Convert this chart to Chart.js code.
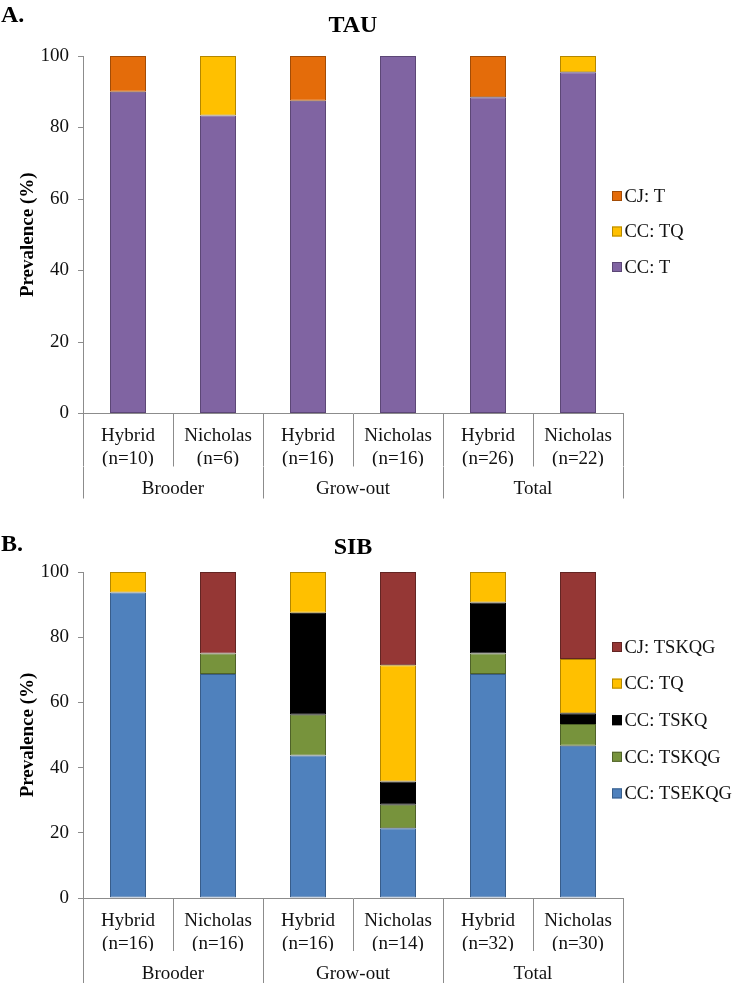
<!DOCTYPE html>
<html>
<head>
<meta charset="utf-8">
<script src="https://cdn.jsdelivr.net/npm/chart.js@4.4.0/dist/chart.umd.min.js"></script>
<style>
  body { margin: 0; background: #fff; }
  canvas { display: block; }
</style>
</head>
<body>
<canvas id="chartA" width="733" height="505"></canvas>
<canvas id="chartB" width="733" height="480"></canvas>
<script>
// Group labels under the categories
var groups = ["Brooder", "Grow-out", "Total"];
var tauLabels = [["Hybrid", "(n=10)"], ["Nicholas", "(n=6)"], ["Hybrid", "(n=16)"], ["Nicholas", "(n=16)"], ["Hybrid", "(n=26)"], ["Nicholas", "(n=22)"]];
var sibLabels = [["Hybrid", "(n=16)"], ["Nicholas", "(n=16)"], ["Hybrid", "(n=16)"], ["Nicholas", "(n=14)"], ["Hybrid", "(n=32)"], ["Nicholas", "(n=30)"]];

// TAU prevalence (%)
var tau_cc_t = [90, 83.33, 87.5, 100, 88.46, 95.45];
var tau_cc_tq = [0, 16.67, 0, 0, 0, 4.55];
var tau_cj_t = [10, 0, 12.5, 0, 11.54, 0];

// SIB prevalence (%)
var sib_cc_tsekqg = [93.75, 68.75, 43.75, 21.43, 68.75, 46.67];
var sib_cc_tskqg = [0, 6.25, 12.5, 7.14, 6.25, 6.67];
var sib_cc_tskq = [0, 0, 31.25, 7.14, 15.62, 3.33];
var sib_cc_tq = [6.25, 0, 12.5, 35.71, 9.38, 16.67];
var sib_cj_tskqg = [0, 25, 0, 28.57, 0, 26.66];

var serif = "'Liberation Serif', 'Times New Roman', serif";
var lineColor = "#8c8c8c";
var textColor = "#111";

// letter, title and legend drawn next to the plot
var panelText = {
  id: "panelText",
  afterDraw: function (chart, args, o) {
    var ctx = chart.ctx, a = chart.chartArea;
    ctx.save();
    ctx.fillStyle = "#000";
    ctx.textBaseline = "middle";
    ctx.font = "bold 24px " + serif;
    ctx.textAlign = "left";
    ctx.fillText(o.letter, 1, o.letterY);
    ctx.textAlign = "center";
    ctx.fillText(o.title, (a.left + a.right) / 2, o.titleY);
    ctx.font = "18.5px " + serif;
    ctx.textAlign = "left";
    var ds = chart.data.datasets;
    for (var i = 0; i < ds.length; i++) {
      var d = ds[ds.length - 1 - i];
      var y = o.legendY + i * o.legendGap;
      ctx.fillStyle = d.backgroundColor;
      ctx.fillRect(a.right - 11, y - 5, 10, 10);
      ctx.strokeStyle = d.borderColor;
      ctx.lineWidth = 1;
      ctx.strokeRect(a.right - 10.5, y - 4.5, 9, 9);
      ctx.fillStyle = textColor;
      ctx.fillText(d.label, a.right + 1.5, y + 1);
    }
    ctx.restore();
  }
};

function series(label, values, color, border) {
  return {
    label: label,
    data: values.map(function (v) { return v || null; }),
    backgroundColor: color,
    borderColor: border,
    borderWidth: 1,
    borderSkipped: false,
    categoryPercentage: 1,
    barPercentage: 0.4
  };
}

function makeChart(id, labels, datasets, text, padTop, padBottom) {
  var tickFont = { family: serif, size: 19 };
  return new Chart(document.getElementById(id), {
    type: "bar",
    data: { labels: labels, datasets: datasets },
    plugins: [panelText],
    options: {
      responsive: false,
      animation: false,
      layout: { padding: { top: padTop, right: 110, bottom: padBottom, left: 0 } },
      plugins: {
        legend: { display: false },
        title: { display: false },
        tooltip: { enabled: false },
        panelText: text
      },
      scales: {
        x: {
          stacked: true,
          offset: true,
          weight: 0,
          grid: { offset: true, drawOnChartArea: false, tickLength: 53, color: lineColor },
          border: { color: lineColor },
          ticks: { padding: -41.5, font: tickFont, color: textColor, maxRotation: 0, autoSkip: false },
          afterFit: function (s) { s.height = 53; }
        },
        x2: {
          type: "category",
          labels: groups,
          position: "bottom",
          offset: true,
          weight: 1,
          grid: { offset: true, drawOnChartArea: false, tickLength: 32, color: lineColor },
          border: { display: false },
          ticks: { padding: -20.5, font: tickFont, color: textColor, maxRotation: 0 },
          afterFit: function (s) { s.height = 32; }
        },
        y: {
          stacked: true,
          min: 0,
          max: 100,
          ticks: { stepSize: 20, padding: 9, font: tickFont, color: textColor },
          grid: { drawOnChartArea: false, tickLength: 5, color: lineColor },
          border: { color: lineColor },
          title: {
            display: true,
            text: "Prevalence (%)",
            color: "#000",
            font: { family: serif, size: 19, weight: "bold" },
            padding: { top: 17, bottom: 0 }
          },
          afterFit: function (s) { s.width = 83; }
        }
      }
    }
  });
}

makeChart("chartA", tauLabels, [
  series("CC: T", tau_cc_t, "#8064a2", "#5c4776"),
  series("CC: TQ", tau_cc_tq, "#ffc000", "#b38700"),
  series("CJ: T", tau_cj_t, "#e46c0a", "#a34c06")
], { letter: "A.", letterY: 16, title: "TAU", titleY: 26, legendY: 196, legendGap: 35.5 }, 56, 6.5);

makeChart("chartB", sibLabels, [
  series("CC: TSEKQG", sib_cc_tsekqg, "#4f81bd", "#385d8a"),
  series("CC: TSKQG", sib_cc_tskqg, "#77933c", "#4f6228"),
  series("CC: TSKQ", sib_cc_tskq, "#000000", "#000000"),
  series("CC: TQ", sib_cc_tq, "#ffc000", "#b38700"),
  series("CJ: TSKQG", sib_cj_tskqg, "#953735", "#632523")
], { letter: "B.", letterY: 40, title: "SIB", titleY: 43, legendY: 142, legendGap: 36.6 }, 67, 2);
</script>
</body>
</html>
